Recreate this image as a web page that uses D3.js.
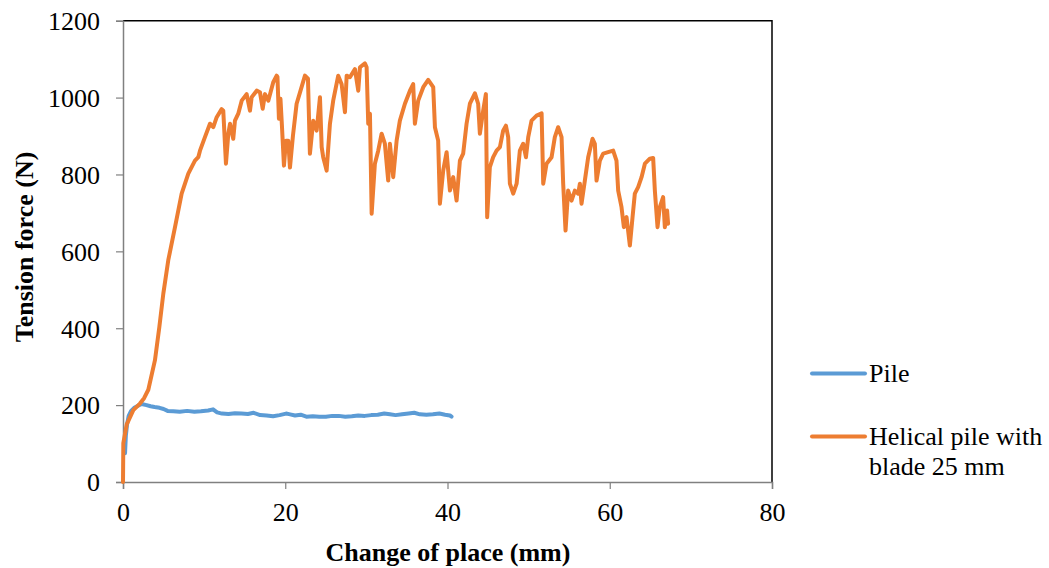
<!DOCTYPE html>
<html>
<head>
<meta charset="utf-8">
<script src="https://cdn.jsdelivr.net/npm/d3@7"></script>
<style>
  html, body { margin: 0; padding: 0; background: #fff; }
  svg { display: block; }
  text { font-family: "Liberation Serif", "Times New Roman", serif; fill: #000; }
</style>
</head>
<body>
<svg id="chart" width="1049" height="568"></svg>
<script>
// ---- data ----
const xTicks = [0, 20, 40, 60, 80];
const yTicks = [0, 200, 400, 600, 800, 1000, 1200];
const seriesNames = ["Pile", "Helical pile with blade 25 mm"];
const seriesColors = ["#5B9BD5", "#ED7D31"];

const pileX = [0.25,0.35,0.5,0.7,1.0,1.4,1.8,2.3,2.9,3.4,3.9,4.5,5.0,5.5,6.2,7.0,7.9,8.8,9.6,10.5,11.1,11.6,12.2,13.0,13.8,14.6,15.4,16.1,16.9,17.7,18.5,19.3,20.1,20.6,21.2,21.9,22.6,23.4,24.2,25.0,25.8,26.6,27.4,28.2,29.0,29.8,30.6,31.4,32.2,32.9,33.6,34.4,35.2,35.9,36.6,37.4,38.2,39.0,39.7,40.3,40.5];
const pileY = [75,120,150,172,185,193,198,203,200,197,195,193,190,185,184,183,185,183,184,186,189,181,178,177,179,178,177,180,174,173,171,174,178,176,173,175,170,171,170,170,172,172,170,171,173,172,174,175,178,176,174,176,178,180,176,175,176,178,175,173,170];

const helicalX = [0,0.04,0.46,1.27,2.09,2.6,3.12,3.94,4.48,4.97,5.58,6.41,7.23,8.05,8.87,9.28,9.49,10.10,10.72,11.13,11.55,12.16,12.36,12.69,12.98,13.19,13.59,13.80,14.21,14.63,15.24,15.65,15.86,16.48,16.88,17.22,17.50,17.91,18.52,18.94,19.04,19.22,19.41,19.59,19.84,20.09,20.37,20.58,20.95,21.40,21.81,22.43,22.80,23.04,23.45,23.87,24.28,24.49,24.68,25.10,25.51,25.91,26.53,26.95,27.36,27.57,27.97,28.59,29.00,29.21,29.82,30.03,30.23,30.44,30.65,31.05,31.46,31.88,32.28,32.69,32.90,33.31,33.73,34.13,34.75,35.37,35.77,35.98,36.39,37.01,37.62,38.24,38.45,38.85,39.06,39.47,39.89,40.30,40.70,41.12,41.53,41.93,42.35,42.76,43.38,43.78,43.99,44.40,44.73,44.89,45.22,45.63,46.05,46.46,46.86,47.20,47.48,47.69,48.10,48.52,48.92,49.33,49.67,49.95,50.36,50.98,51.60,51.80,52.21,52.83,53.23,53.64,54.06,54.26,54.55,54.87,55.29,55.70,56.11,56.32,56.52,56.93,57.34,57.88,58.16,58.37,58.78,59.19,59.80,60.42,60.83,61.04,61.45,61.74,62.07,62.48,62.81,63.09,63.50,63.92,64.33,64.94,65.35,65.56,65.89,66.17,66.58,66.79,67.07,67.19];
const helicalY = [0,101,150,187,204,218,240,317,403,490,577,663,750,802,836,845,862,897,932,923,949,970,966,828,906,932,893,940,958,992,1009,966,1001,1018,1014,971,1009,992,1040,1057,1054,945,997,927,823,888,888,818,901,984,1013,1057,1049,854,940,914,1001,871,845,810,932,992,1057,1035,962,1057,1053,1074,1018,1079,1089,1079,932,958,698,828,862,906,880,784,880,793,888,940,984,1018,1035,932,992,1027,1046,1027,923,888,724,810,858,758,793,732,836,854,932,984,1011,984,906,966,1009,689,819,845,862,871,914,927,897,776,750,776,862,880,845,897,940,953,959,776,828,845,897,923,897,776,654,758,732,758,750,776,724,784,845,893,880,784,836,854,858,862,836,758,715,663,689,615,689,750,767,793,828,841,843,758,663,715,741,663,706,672];

// ---- layout ----
const svg = d3.select("#chart");
const x = d3.scaleLinear().domain([0, 80]).range([123, 772]);
const y = d3.scaleLinear().domain([0, 1200]).range([482, 20.7]);

// plot area border (top/right black)
svg.append("path")
  .attr("d", `M${x(0)},${y(1200)}H${x(80)}V${y(0)}`)
  .attr("fill", "none").attr("stroke", "#000").attr("stroke-width", 1.5);

// axes
const xAxis = svg.append("g").attr("transform", `translate(0,${y(0)})`)
  .call(d3.axisBottom(x).tickValues(xTicks).tickSize(7).tickPadding(14).tickFormat(d3.format("d")));
const yAxis = svg.append("g").attr("transform", `translate(${x(0)},0)`)
  .call(d3.axisLeft(y).tickValues(yTicks).tickSize(7).tickPadding(16).tickFormat(d3.format("d")));
[xAxis, yAxis].forEach(g => {
  g.select(".domain").attr("stroke", "#808080").attr("stroke-width", 1.5);
  g.selectAll(".tick line").attr("stroke", "#808080").attr("stroke-width", 1.2);
  g.selectAll(".tick text").attr("font-family", "Liberation Serif").attr("font-size", 26).attr("fill", "#000");
});
yAxis.selectAll(".tick text").attr("dy", "0.34em");

// lines
const line = d3.line().x(d => x(d[0])).y(d => y(d[1]));
const pileData = pileX.map((v, i) => [v, pileY[i]]);
const helicalData = helicalX.map((v, i) => [v, helicalY[i]]);

svg.append("path").datum(pileData).attr("d", line)
  .attr("fill", "none").attr("stroke", seriesColors[0]).attr("stroke-width", 4)
  .attr("stroke-linejoin", "round").attr("stroke-linecap", "round");
svg.append("path").datum(helicalData).attr("d", line)
  .attr("fill", "none").attr("stroke", seriesColors[1]).attr("stroke-width", 4)
  .attr("stroke-linejoin", "round").attr("stroke-linecap", "round");

// axis titles
svg.append("text").attr("x", 448).attr("y", 561).attr("text-anchor", "middle")
  .attr("font-weight", "bold").attr("font-size", 26).text("Change of place (mm)");
svg.append("text").attr("transform", "translate(33,247) rotate(-90)").attr("text-anchor", "middle")
  .attr("font-weight", "bold").attr("font-size", 26).text("Tension force (N)");

// legend
const legend = svg.append("g");
legend.append("line").attr("x1", 812).attr("x2", 865).attr("y1", 373.5).attr("y2", 373.5)
  .attr("stroke", seriesColors[0]).attr("stroke-width", 4).attr("stroke-linecap", "round");
legend.append("text").attr("x", 869).attr("y", 382).attr("font-size", 26).text(seriesNames[0]);
legend.append("line").attr("x1", 812).attr("x2", 865).attr("y1", 436.5).attr("y2", 436.5)
  .attr("stroke", seriesColors[1]).attr("stroke-width", 4).attr("stroke-linecap", "round");
const lt = legend.append("text").attr("x", 869).attr("y", 445).attr("font-size", 26);
lt.append("tspan").attr("x", 869).text("Helical pile with");
lt.append("tspan").attr("x", 869).attr("dy", 30).text("blade 25 mm");
</script>
</body>
</html>
